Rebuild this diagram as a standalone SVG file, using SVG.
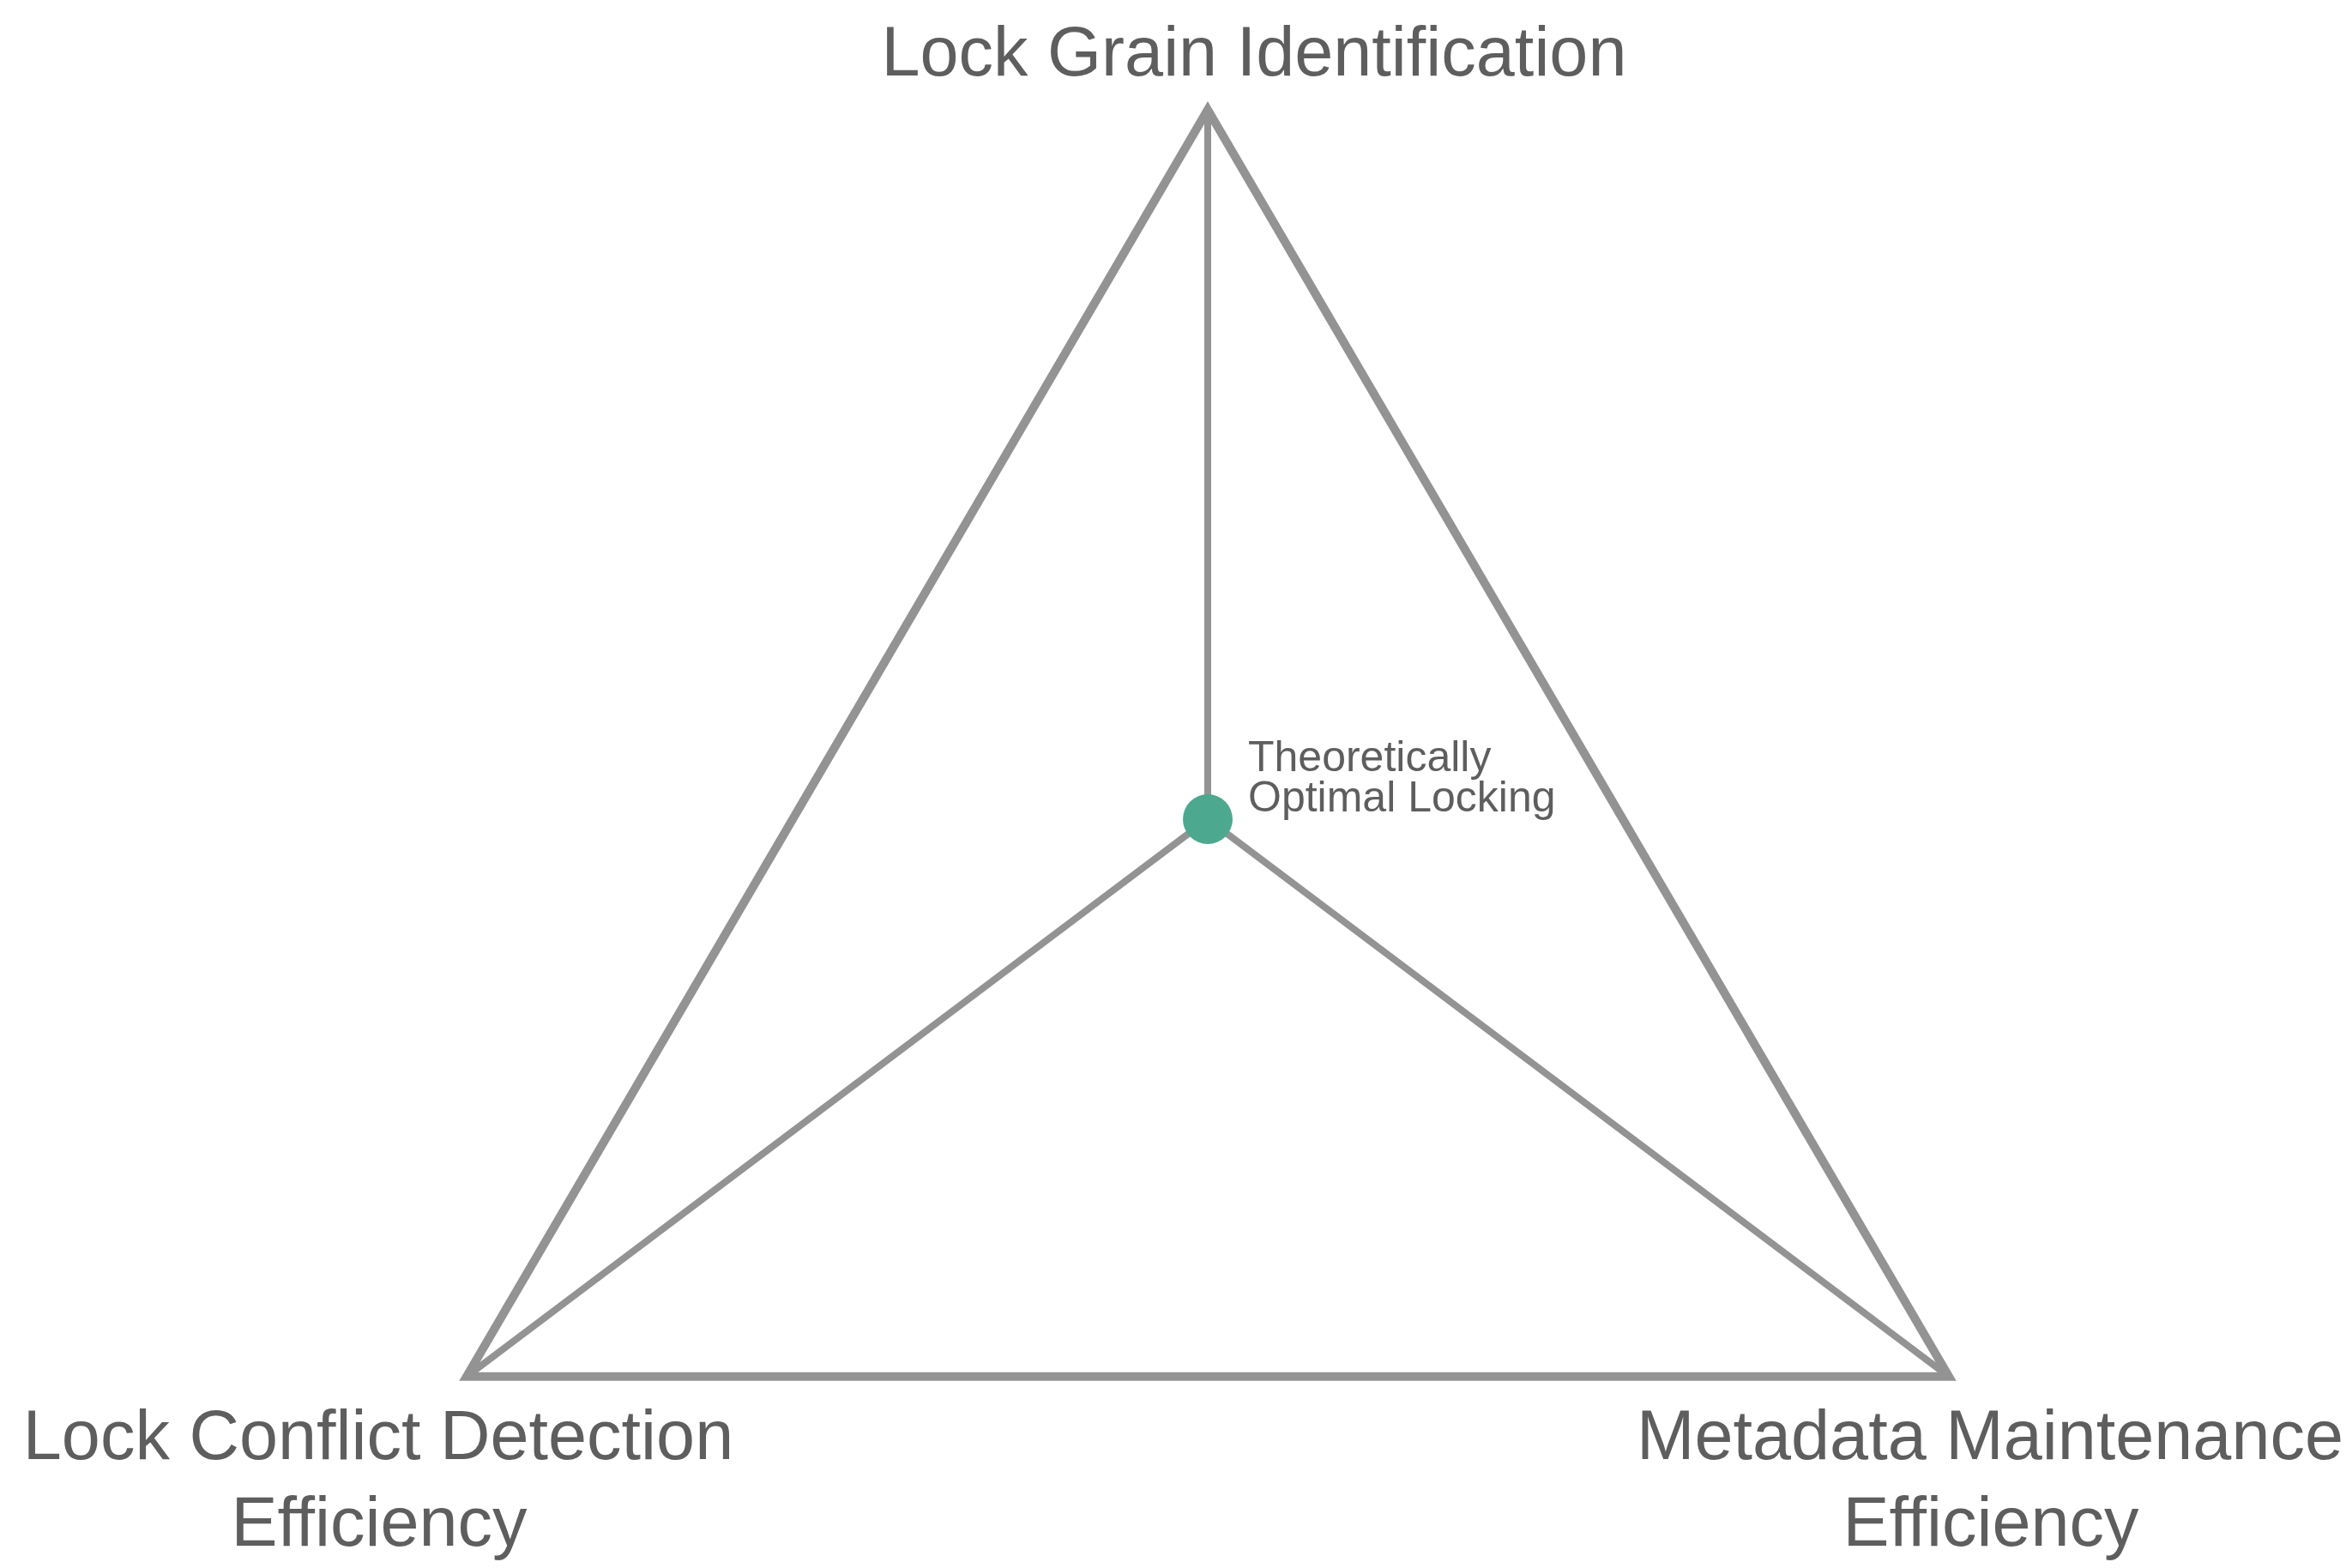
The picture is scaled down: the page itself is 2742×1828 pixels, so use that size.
<svg xmlns="http://www.w3.org/2000/svg" width="2742" height="1828" viewBox="0 0 2742 1828">
<style>
.edge{fill:none;stroke:#939393;stroke-linejoin:miter;stroke-miterlimit:10}
.frame{stroke-width:10}
.spoke{stroke-width:8}
.lbl{font-family:"Liberation Sans",Arial,Helvetica,sans-serif;fill:#5e5e5e}
.big{font-size:81px;text-anchor:middle}
.small{font-size:50px}
</style>
<rect width="2742" height="1828" fill="#ffffff"/>
<g id="connectors">
<path class="edge frame" d="M1408,128 L2272,1604.7 L544,1604.7 Z"/>
<line class="edge spoke" x1="1408" y1="955" x2="1408" y2="128"/>
<line class="edge spoke" x1="1408" y1="955" x2="544" y2="1604.7"/>
<line class="edge spoke" x1="1408" y1="955" x2="2272" y2="1604.7"/>
</g>
<g id="axis-top">
<text class="lbl big" x="1462" y="88">Lock Grain Identification</text>
</g>
<g id="axis-left">
<text class="lbl big" x="441" y="1701">Lock Conflict Detection</text>
<text class="lbl big" x="442" y="1802">Efficiency</text>
</g>
<g id="axis-right">
<text class="lbl big" x="2320" y="1701">Metadata Maintenance</text>
<text class="lbl big" x="2321" y="1802">Efficiency</text>
</g>
<g id="optimal-point">
<circle cx="1408" cy="955" r="29" fill="#4ca88e"/>
<text class="lbl small" x="1455" y="899">Theoretically</text>
<text class="lbl small" x="1455" y="946">Optimal Locking</text>
</g>
</svg>
